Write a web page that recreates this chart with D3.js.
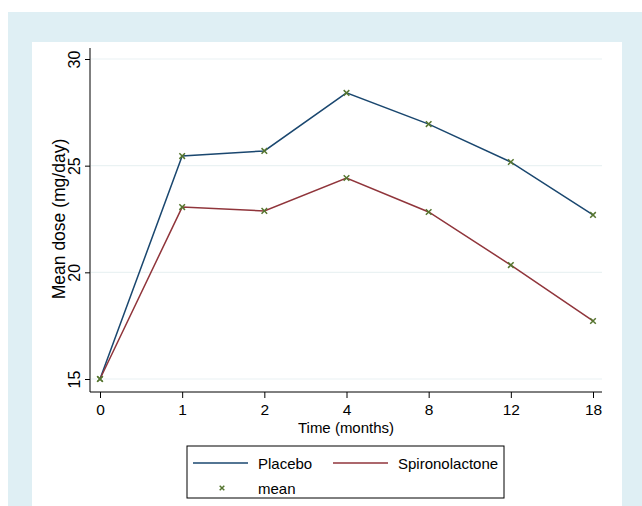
<!DOCTYPE html>
<html>
<head>
<meta charset="utf-8">
<script src="https://cdn.jsdelivr.net/npm/d3@7"></script>
<style>
  body { margin: 0; background: #fff; }
  text { font-family: "Liberation Sans", Arial, sans-serif; fill: #000; }
</style>
</head>
<body>
<script>
// data
const months = ["0", "1", "2", "4", "8", "12", "18"];
const placebo = [15, 25.45, 25.69, 28.41, 26.95, 25.17, 22.69];
const spiro = [15, 23.06, 22.88, 24.42, 22.83, 20.34, 17.72];
const yTicks = [15, 20, 25, 30];

const W = 642, H = 506;
let svg = d3.select("body").append("svg").attr("width", W).attr("height", H);

// background panels
svg.append("rect").attr("x", 8).attr("y", 12).attr("width", W - 8).attr("height", H - 12).attr("fill", "#dfeff4");
svg.append("rect").attr("x", 32).attr("y", 42).attr("width", 590).attr("height", H - 42).attr("fill", "#fff");

// scales
let x = d3.scalePoint().domain(months).range([100, 593]);
let y = d3.scaleLinear().domain([15, 30]).range([379, 59]);

// gridlines
svg.append("g").selectAll("line").data(yTicks).join("line")
  .attr("x1", 91).attr("x2", 602)
  .attr("y1", d => y(d)).attr("y2", d => y(d))
  .attr("stroke", "#eaf2f3").attr("stroke-width", 1.2);

// y axis
let yAxis = svg.append("g").attr("transform", "translate(90,0)")
  .call(d3.axisLeft(y).tickValues(yTicks).tickSize(5).tickPadding(4));
yAxis.select(".domain").attr("d", "M0,48V392").attr("stroke", "#000");
yAxis.selectAll(".tick line").attr("stroke", "#000");
yAxis.selectAll(".tick text")
  .attr("font-size", 16)
  .attr("transform", "rotate(-90)")
  .attr("x", 0).attr("y", -10)
  .attr("text-anchor", "middle")
  .attr("dy", "0");

// x axis
let xAxis = svg.append("g").attr("transform", "translate(0,392)")
  .call(d3.axisBottom(x).tickSize(6).tickPadding(6));
xAxis.select(".domain").attr("d", "M90,0H602").attr("stroke", "#000");
xAxis.selectAll(".tick line").attr("stroke", "#000");
xAxis.selectAll(".tick text").attr("font-size", 15.5);

// axis titles
svg.append("text").attr("transform", "translate(65,219) rotate(-90)")
  .attr("text-anchor", "middle").attr("font-size", 17.5).text("Mean dose (mg/day)");
svg.append("text").attr("x", 346).attr("y", 433)
  .attr("text-anchor", "middle").attr("font-size", 15).text("Time (months)");

// lines
let line = d3.line().x((d, i) => x(months[i])).y(d => y(d));
svg.append("path").datum(placebo).attr("d", line).attr("fill", "none")
  .attr("stroke", "#1a476f").attr("stroke-width", 1.5);
svg.append("path").datum(spiro).attr("d", line).attr("fill", "none")
  .attr("stroke", "#90353b").attr("stroke-width", 1.5);

// mean markers
function cross(g, cx, cy, s) {
  g.append("path").attr("d", `M${cx - s},${cy - s}L${cx + s},${cy + s}M${cx - s},${cy + s}L${cx + s},${cy - s}`)
    .attr("stroke", "#55752f").attr("stroke-width", 1.5).attr("fill", "none");
}
let marks = svg.append("g");
placebo.forEach((d, i) => cross(marks, x(months[i]), y(d), 2.8));
spiro.forEach((d, i) => cross(marks, x(months[i]), y(d), 2.8));

// legend
let leg = svg.append("g");
leg.append("rect").attr("x", 187).attr("y", 446).attr("width", 317).attr("height", 52)
  .attr("fill", "#fff").attr("stroke", "#000").attr("stroke-width", 1);
leg.append("line").attr("x1", 193).attr("x2", 248).attr("y1", 463).attr("y2", 463)
  .attr("stroke", "#1a476f").attr("stroke-width", 1.5);
leg.append("text").attr("x", 258).attr("y", 469).attr("font-size", 15).text("Placebo");
leg.append("line").attr("x1", 333).attr("x2", 388).attr("y1", 463).attr("y2", 463)
  .attr("stroke", "#90353b").attr("stroke-width", 1.5);
leg.append("text").attr("x", 398).attr("y", 469).attr("font-size", 15).text("Spironolactone");
cross(leg, 222, 488, 2.3);
leg.append("text").attr("x", 258).attr("y", 494).attr("font-size", 15).text("mean");
</script>
</body>
</html>
